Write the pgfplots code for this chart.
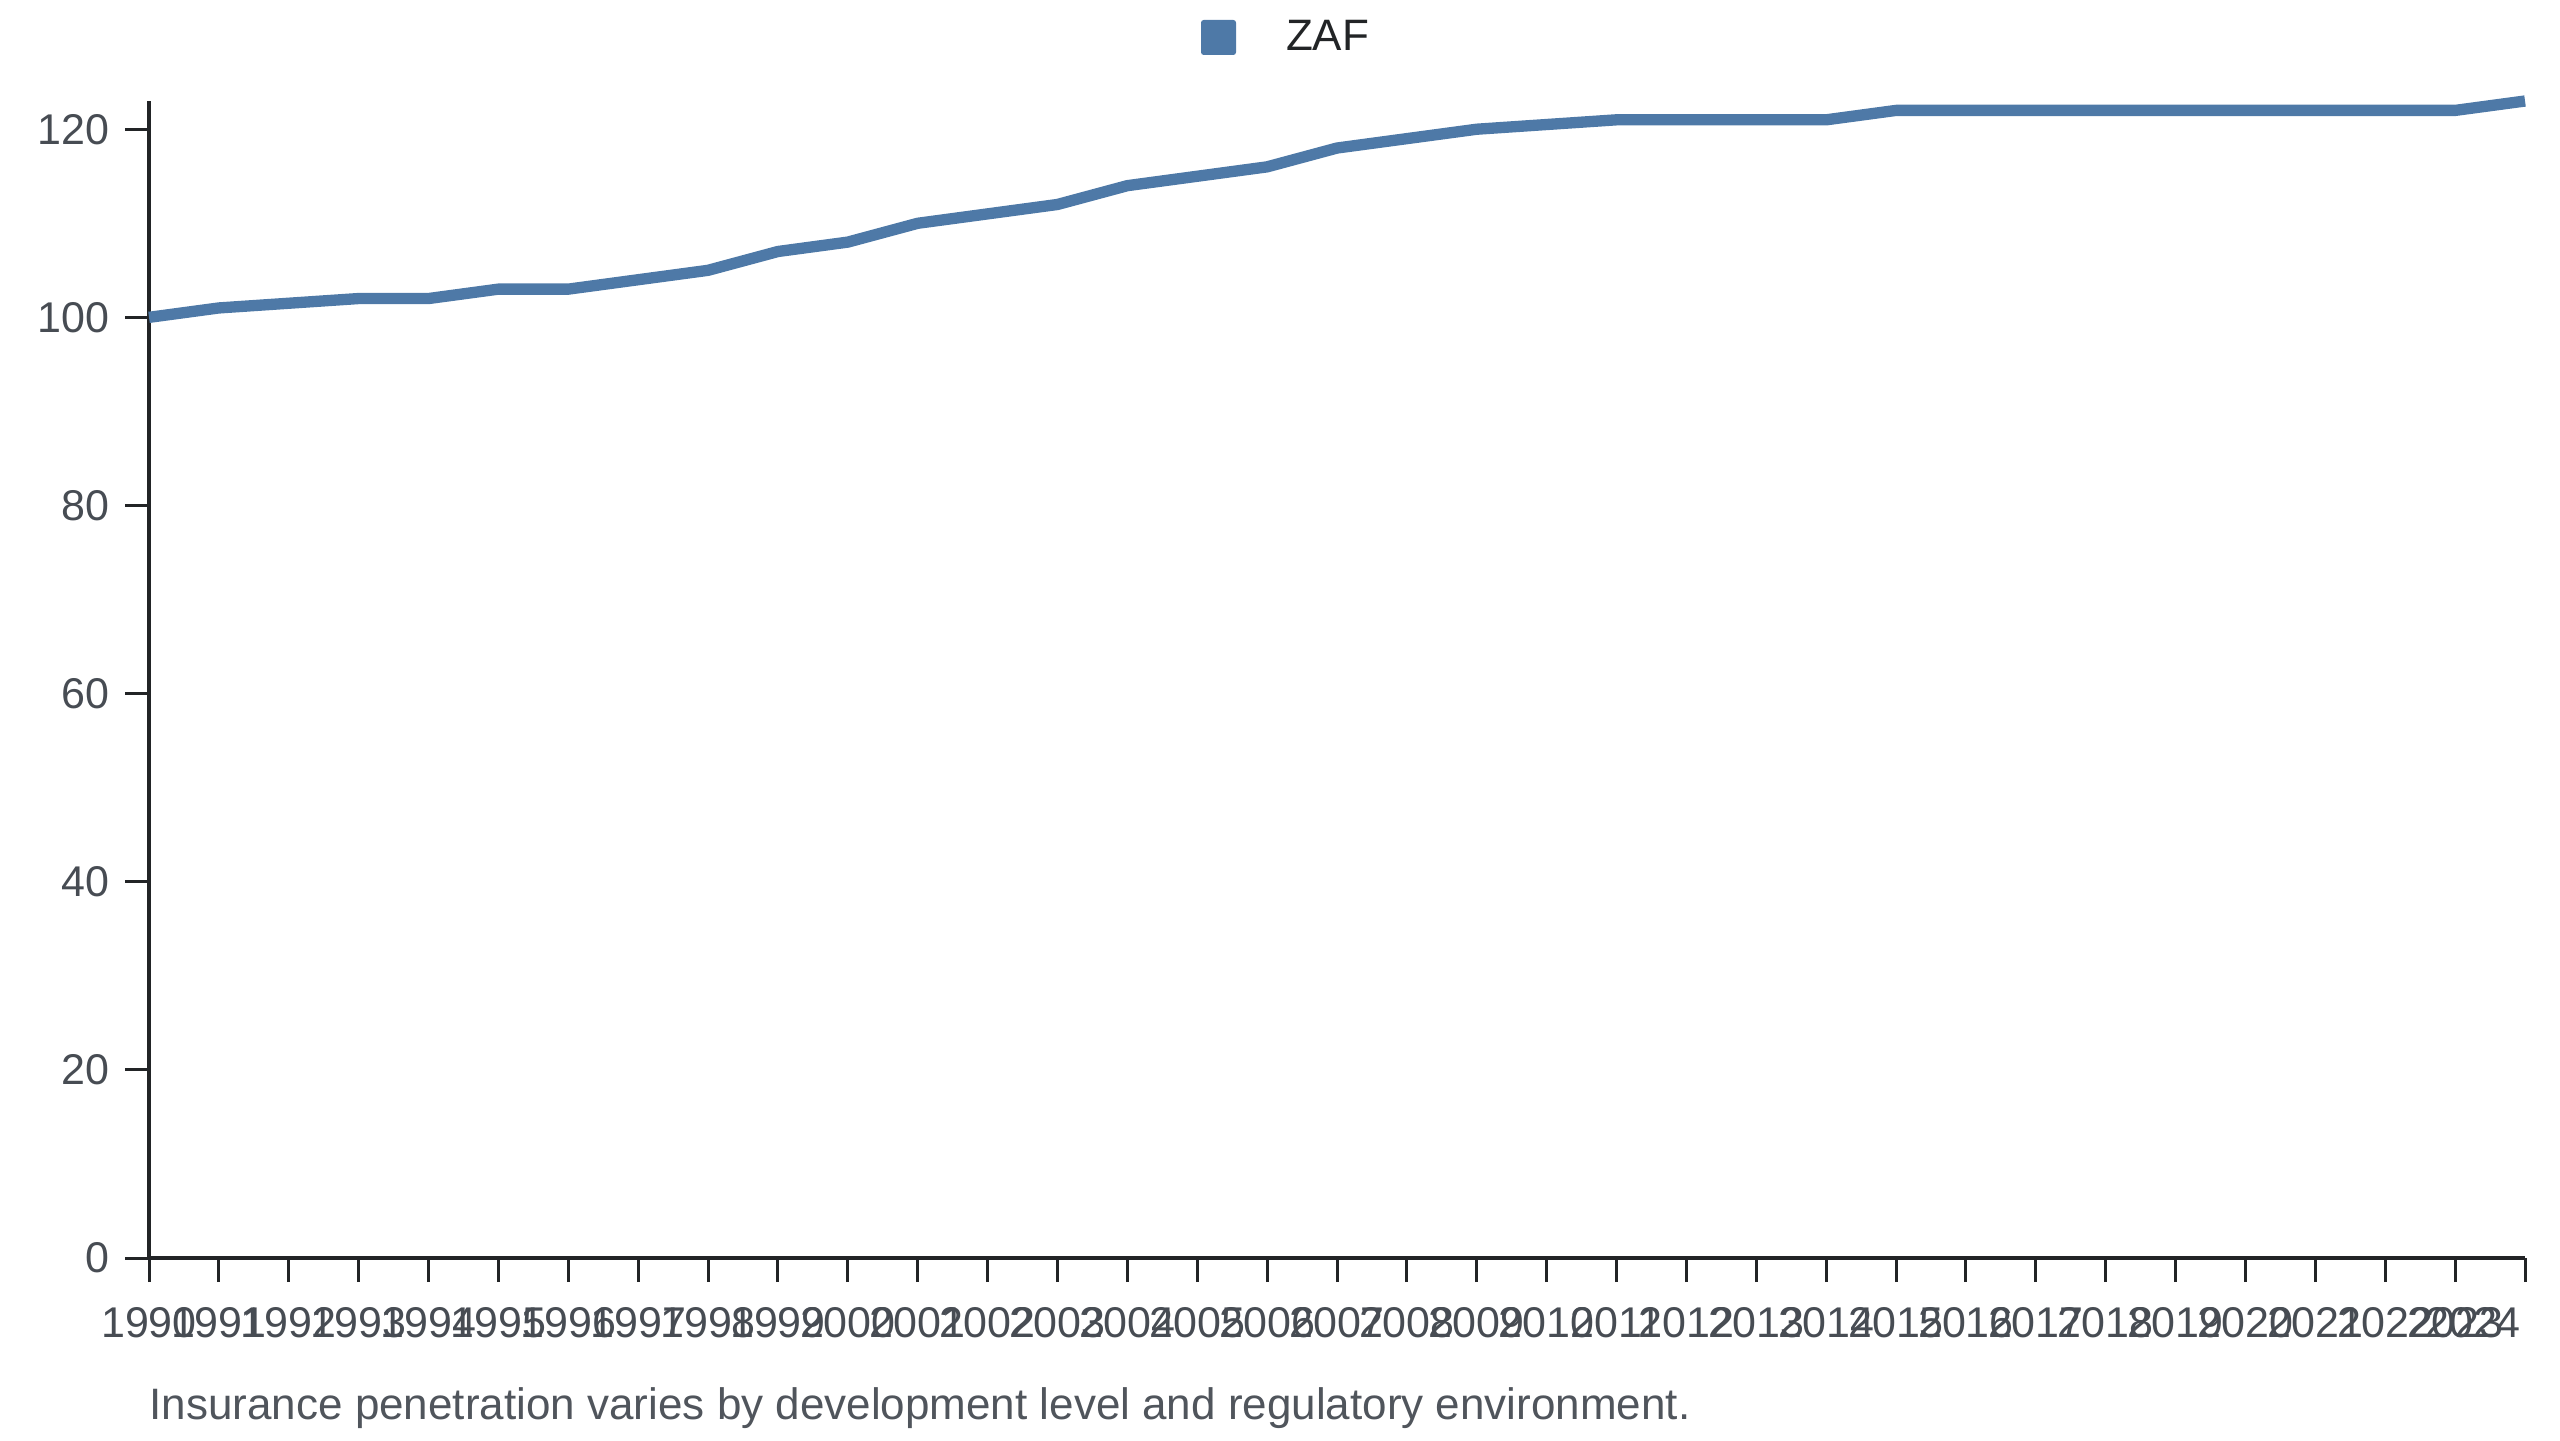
\documentclass[border=0pt]{standalone}
\usepackage{fontspec}
\setmainfont{Liberation Sans}
\usepackage{pgfplots}
\pgfplotsset{compat=1.18}
\definecolor{c1}{HTML}{4E79A7}
\definecolor{axc}{HTML}{222426}
\definecolor{tickc}{HTML}{474C53}
\definecolor{capc}{HTML}{50555C}
\begin{document}
\begin{tikzpicture}
\useasboundingbox (0,0) rectangle (768pt,432pt);
\begin{axis}[
  at={(44.7pt,54.6pt)}, anchor=south west,
  scale only axis, width=712.8pt, height=347.1pt,
  xmin=1990, xmax=2024, ymin=0, ymax=123,
  axis x line=bottom, axis y line=left,
  axis line style={-, line width=1.2pt, color=axc},
  tick style={line width=0.9pt, color=axc},
  tick align=outside, major tick length=7.2pt,
  xtick={1990,1991,...,2023},
  extra x ticks={2024},
  extra x tick style={xticklabel style={anchor=north east, xshift=2.3pt}},
  ytick={0,20,...,120},
  clip=false,
  /pgf/number format/1000 sep={},
  /pgf/number format/assume math mode=true,
  ticklabel style={font=\fontsize{12.9}{15}\selectfont, color=tickc},
  xticklabel style={yshift=-4pt},
  yticklabel style={xshift=-1.2pt},
  legend style={draw=none, fill=none, at={(0.44276,1.0549)}, anchor=west,
    inner sep=0pt, outer sep=0pt, font=\fontsize{13.2}{15}\selectfont, text=axc,
    nodes={inner sep=0pt}},
  legend image code/.code={%
    \fill[c1, draw=none, rounded corners=0.8pt] (0pt,-5.25pt) rectangle (10.5pt,5.25pt);
    \path[draw=none, fill=none] (0pt,0pt) -- (25.5pt,0pt);},
]
\addplot[c1, line width=3.4pt, line join=round] coordinates {
(1990,100) (1991,101) (1992,101.5) (1993,102) (1994,102) (1995,103) (1996,103)
(1997,104) (1998,105) (1999,107) (2000,108) (2001,110) (2002,111) (2003,112)
(2004,114) (2005,115) (2006,116) (2007,118) (2008,119) (2009,120) (2010,120.5)
(2011,121) (2012,121) (2013,121) (2014,121) (2015,122) (2016,122) (2017,122)
(2018,122) (2019,122) (2020,122) (2021,122) (2022,122) (2023,122) (2024,123)
};
\addlegendentry{ZAF}
\end{axis}
\node[anchor=base west, inner sep=0pt, font=\fontsize{13.2}{15}\selectfont, text=capc] at (44.7pt,6.3pt) {Insurance penetration varies by development level and regulatory environment.};
\end{tikzpicture}
\end{document}
